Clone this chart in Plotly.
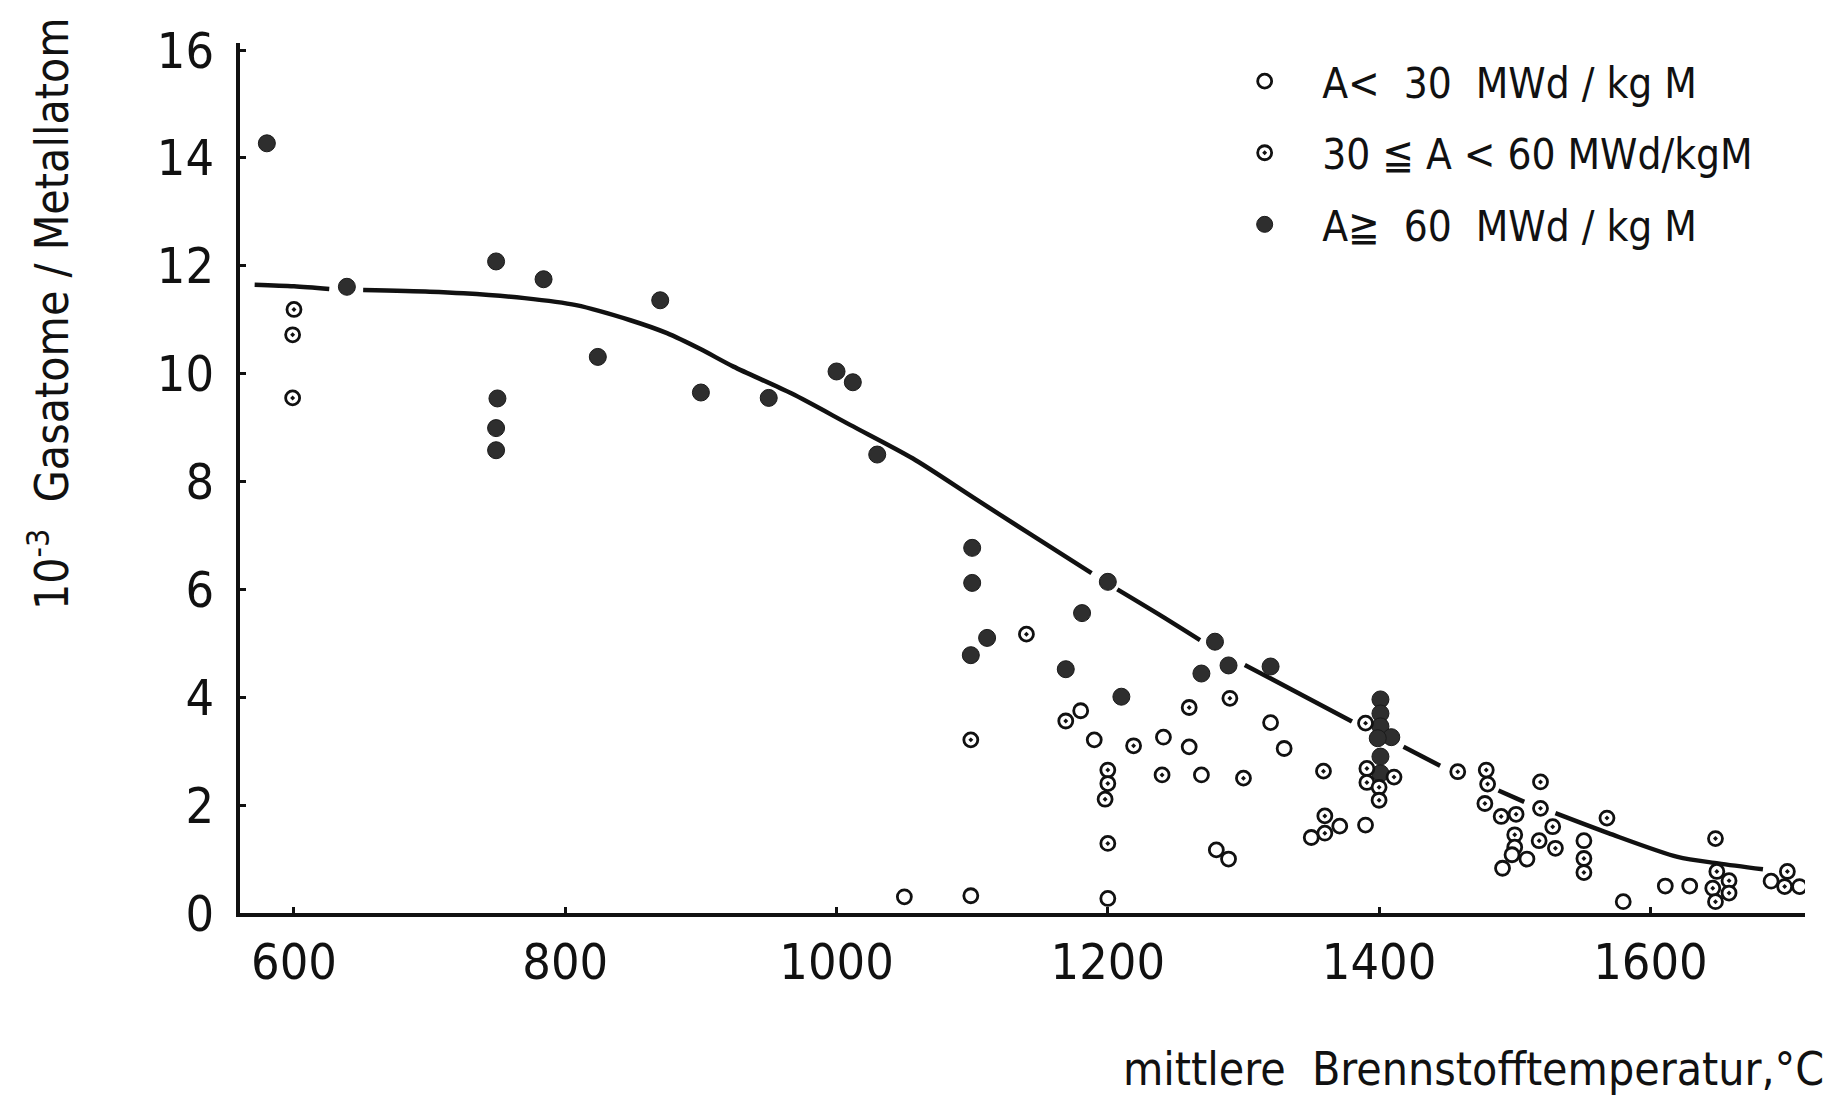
import plotly.graph_objects as go

# ---- data ----
# A < 30 MWd/kgM (open circles)
open_T = [1050, 1099, 1180, 1190, 1241, 1200, 1260, 1269, 1320, 1330, 1280, 1289,
          1371, 1350, 1390, 1500, 1498, 1509, 1491, 1551, 1580, 1611, 1629, 1689, 1710]
open_V = [0.30, 0.32, 3.75, 3.21, 3.26, 0.27, 3.08, 2.56, 3.53, 3.05, 1.17, 1.00,
          1.61, 1.40, 1.63, 1.22, 1.08, 1.00, 0.83, 1.34, 0.21, 0.50, 0.50, 0.59, 0.49]

# 30 <= A < 60 MWd/kgM (circles with centre dot)
dot_T = [600, 599, 599, 1099, 1140, 1169, 1219, 1240, 1200, 1200, 1198, 1200,
         1260, 1290, 1300, 1359, 1360, 1360, 1390, 1391, 1391, 1400, 1400, 1411,
         1458, 1479, 1480, 1478, 1490, 1501, 1500, 1519, 1519, 1528, 1518, 1530,
         1551, 1551, 1568, 1648, 1649, 1658, 1646, 1658, 1648, 1701, 1699]
dot_V = [11.19, 10.72, 9.55, 3.21, 5.17, 3.56, 3.10, 2.56, 2.65, 2.40, 2.11, 1.29,
         3.81, 3.98, 2.50, 2.63, 1.80, 1.48, 3.52, 2.68, 2.42, 2.33, 2.09, 2.52,
         2.62, 2.65, 2.39, 2.03, 1.79, 1.83, 1.45, 2.43, 1.94, 1.60, 1.34, 1.20,
         1.01, 0.75, 1.76, 1.38, 0.77, 0.60, 0.46, 0.37, 0.21, 0.77, 0.49]

# A >= 60 MWd/kgM (filled circles)
full_T = [580, 639, 749, 784, 870, 824, 900, 750, 749, 749, 950, 1000, 1012, 1030,
          1100, 1100, 1099, 1111, 1200, 1181, 1169, 1210, 1279, 1269, 1289, 1320,
          1401, 1401, 1401, 1409, 1399, 1401, 1401]
full_V = [14.27, 11.61, 12.08, 11.75, 11.36, 10.31, 9.65, 9.54, 8.99, 8.58, 9.55, 10.04, 9.84, 8.50,
          6.77, 6.12, 4.78, 5.10, 6.14, 5.56, 4.52, 4.01, 5.03, 4.44, 4.59, 4.57,
          3.96, 3.70, 3.46, 3.26, 3.24, 2.90, 2.59]

# hand-drawn trend curve (broken where it passes data points)
curve_T = [571, 600, 626, None,
           651, 700, 725, 770, 808, 848, 875, 900, 924, 967, 1010, 1056, 1101, 1140, 1188, None,
           1207, 1240, 1268, None,
           1301, 1341, 1380, None,
           1418, 1445, None,
           1488, 1507, None,
           1530, 1569, 1620, 1650, 1683]
curve_V = [11.65, 11.62, 11.57, None,
           11.55, 11.52, 11.49, 11.40, 11.27, 10.99, 10.75, 10.45, 10.13, 9.63, 9.05, 8.43, 7.70, 7.07, 6.30, None,
           6.00, 5.50, 5.06, None,
           4.60, 4.07, 3.55, None,
           3.08, 2.73, None,
           2.27, 2.06, None,
           1.85, 1.48, 1.04, 0.92, 0.81]

x_ticks = [600, 800, 1000, 1200, 1400, 1600]
y_ticks = [0, 2, 4, 6, 8, 10, 12, 14, 16]

legend_names = ["A<\u00a0\u00a030\u00a0\u00a0MWd\u00a0/\u00a0kg\u00a0M",
                "30\u00a0≦\u00a0A\u00a0<\u00a060\u00a0MWd/kgM",
                "A≧\u00a0\u00a060\u00a0\u00a0MWd\u00a0/\u00a0kg\u00a0M"]

FONT = "DejaVu Sans Condensed, Liberation Sans Narrow, sans-serif"
INK = "#111111"

fig = go.Figure()

fig.add_trace(go.Scatter(x=curve_T, y=curve_V, mode="lines",
                         line=dict(color=INK, width=4.5, shape="spline", smoothing=0.8),
                         showlegend=False, connectgaps=False, hoverinfo="skip"))

fig.add_trace(go.Scatter(x=full_T, y=full_V, mode="markers", name=legend_names[2],
                         marker=dict(symbol="circle", size=17, color="#2e2e2e",
                                     line=dict(color="#1a1a1a", width=1)),
                         legendrank=3, legendgroup="c"))
fig.add_trace(go.Scatter(x=dot_T, y=dot_V, mode="markers", name=legend_names[1],
                         marker=dict(symbol="circle-dot", size=14, color="white",
                                     line=dict(color=INK, width=2.8)),
                         legendrank=2, legendgroup="b"))
fig.add_trace(go.Scatter(x=open_T, y=open_V, mode="markers", name=legend_names[0],
                         marker=dict(symbol="circle", size=14, color="white",
                                     line=dict(color=INK, width=2.8)),
                         legendrank=1, legendgroup="a"))

fig.update_layout(
    width=1838, height=1100,
    margin=dict(l=240, r=33, t=43, b=187),
    paper_bgcolor="white", plot_bgcolor="white",
    font=dict(family=FONT, size=46, color=INK),
    showlegend=True,
    legend=dict(x=0.618, y=0.995, xanchor="left", yanchor="top",
                font=dict(family=FONT, size=42, color=INK),
                bgcolor="rgba(0,0,0,0)", tracegroupgap=14,
                itemsizing="trace", itemwidth=105),
    xaxis=dict(range=[560.2, 1714], tickvals=x_ticks, ticktext=[str(v) for v in x_ticks],
               showline=True, linecolor=INK, linewidth=4, showgrid=False, zeroline=False,
               ticks="inside", ticklen=6, tickwidth=3, tickcolor=INK,
               ticklabelstandoff=2,
               tickfont=dict(family=FONT, size=50, color=INK)),
    yaxis=dict(range=[0, 16.13], tickvals=y_ticks, ticktext=[str(v) for v in y_ticks],
               showline=True, linecolor=INK, linewidth=4, showgrid=False, zeroline=False,
               ticks="inside", ticklen=6, tickwidth=3, tickcolor=INK,
               ticklabelstandoff=12,
               tickfont=dict(family=FONT, size=50, color=INK)),
    annotations=[
        dict(text="10<sup>-3</sup>\u00a0\u00a0Gasatome\u00a0/\u00a0Metallatom", textangle=-90,
             xref="paper", yref="paper", x=-0.122, y=0.6885,
             xanchor="center", yanchor="middle", showarrow=False,
             font=dict(family=FONT, size=46, color=INK)),
        dict(text="mittlere\u00a0\u00a0Brennstofftemperatur,°C",
             xref="paper", yref="paper", x=1.0134, y=-0.179,
             xanchor="right", yanchor="middle", showarrow=False,
             font=dict(family=FONT, size=46, color=INK)),
    ],
)

fig.write_html("out.html")
